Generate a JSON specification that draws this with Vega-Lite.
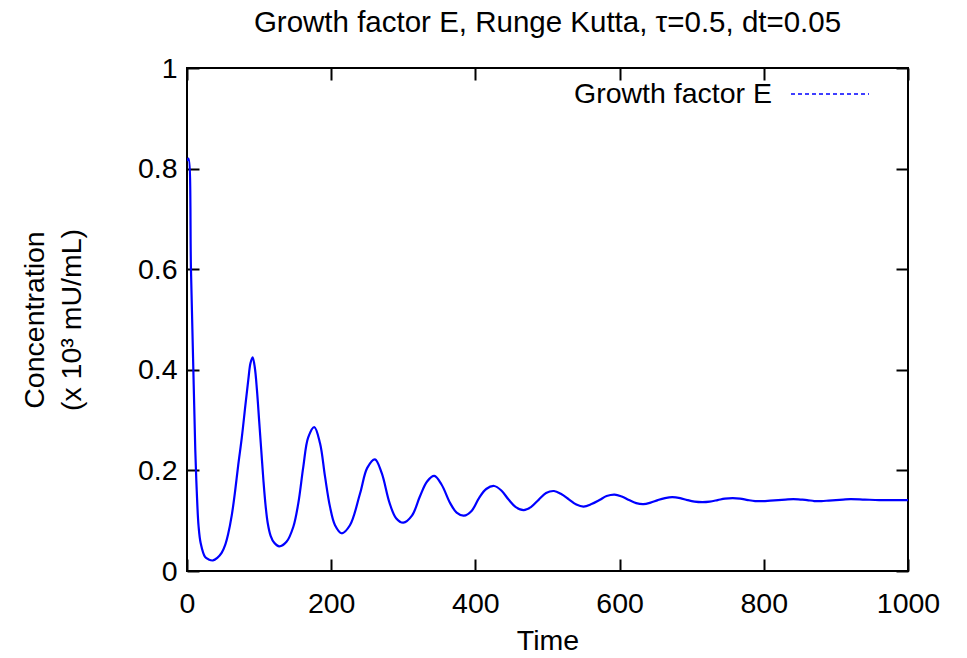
{
  "$schema": "https://vega.github.io/schema/vega-lite/v6.json",
  "width": 721,
  "height": 503,
  "autosize": "none",
  "padding": {"left": 187, "top": 68, "right": 59, "bottom": 87},
  "title": {"text": "Growth factor E, Runge Kutta, τ=0.5, dt=0.05", "font": "Liberation Sans", "fontSize": 29.5, "fontWeight": "normal", "color": "#000000", "offset": 16, "anchor": "middle"},
  "config": {
    "view": {"stroke": "#000000", "strokeWidth": 2},
    "font": "Liberation Sans",
    "axis": {"grid": false, "domain": false, "tickColor": "#000000", "tickWidth": 2, "tickSize": -12, "labelColor": "#000000", "labelFont": "Liberation Sans", "labelFontSize": 28.5, "titleFont": "Liberation Sans", "titleFontSize": 28.5, "titleFontWeight": "normal", "titleColor": "#000000", "labelFlush": false}
  },
  "data": {"values": [
    {"t": 0, "v": 0.815}, {"t": 2, "v": 0.82}, {"t": 5.5, "v": 0.6}, {"t": 8.8, "v": 0.4}, {"t": 11.5, "v": 0.24},
    {"t": 13.5, "v": 0.16}, {"t": 16, "v": 0.09}, {"t": 19, "v": 0.055}, {"t": 25, "v": 0.028}, {"t": 30, "v": 0.023},
    {"t": 36, "v": 0.021}, {"t": 42, "v": 0.026}, {"t": 48, "v": 0.036}, {"t": 53, "v": 0.052}, {"t": 57, "v": 0.073},
    {"t": 62, "v": 0.11}, {"t": 67, "v": 0.162}, {"t": 71, "v": 0.21}, {"t": 76, "v": 0.265}, {"t": 81, "v": 0.33},
    {"t": 85, "v": 0.38}, {"t": 88, "v": 0.413}, {"t": 91, "v": 0.425}, {"t": 94, "v": 0.405}, {"t": 97, "v": 0.36},
    {"t": 100, "v": 0.3}, {"t": 103, "v": 0.24}, {"t": 106, "v": 0.18}, {"t": 109, "v": 0.13}, {"t": 112, "v": 0.095},
    {"t": 116, "v": 0.07}, {"t": 121, "v": 0.056}, {"t": 128, "v": 0.049}, {"t": 138, "v": 0.058}, {"t": 147.5, "v": 0.088},
    {"t": 154.4, "v": 0.135}, {"t": 161.3, "v": 0.207}, {"t": 168, "v": 0.265}, {"t": 176.5, "v": 0.286}, {"t": 184.5, "v": 0.254},
    {"t": 191.4, "v": 0.188}, {"t": 198.3, "v": 0.128}, {"t": 205.3, "v": 0.091}, {"t": 214.5, "v": 0.075}, {"t": 226, "v": 0.091},
    {"t": 240, "v": 0.154}, {"t": 250, "v": 0.205}, {"t": 260.7, "v": 0.222}, {"t": 270, "v": 0.195}, {"t": 281, "v": 0.135},
    {"t": 290, "v": 0.105}, {"t": 300, "v": 0.096}, {"t": 312, "v": 0.11}, {"t": 323, "v": 0.148}, {"t": 333, "v": 0.178},
    {"t": 343, "v": 0.189}, {"t": 353, "v": 0.172}, {"t": 365, "v": 0.135}, {"t": 374, "v": 0.116}, {"t": 384, "v": 0.11},
    {"t": 395, "v": 0.12}, {"t": 405, "v": 0.145}, {"t": 415, "v": 0.163}, {"t": 426, "v": 0.169}, {"t": 436, "v": 0.16},
    {"t": 446, "v": 0.142}, {"t": 456, "v": 0.127}, {"t": 467, "v": 0.121}, {"t": 477, "v": 0.127}, {"t": 488, "v": 0.142},
    {"t": 498, "v": 0.155}, {"t": 509, "v": 0.159}, {"t": 519, "v": 0.153}, {"t": 530, "v": 0.142}, {"t": 540, "v": 0.132},
    {"t": 550, "v": 0.128}, {"t": 561, "v": 0.133}, {"t": 572, "v": 0.141}, {"t": 582, "v": 0.149}, {"t": 593, "v": 0.152},
    {"t": 603, "v": 0.148}, {"t": 613, "v": 0.141}, {"t": 623, "v": 0.135}, {"t": 633, "v": 0.133}, {"t": 643, "v": 0.136},
    {"t": 653, "v": 0.141}, {"t": 663, "v": 0.145}, {"t": 673, "v": 0.147}, {"t": 684, "v": 0.145}, {"t": 694, "v": 0.141},
    {"t": 704, "v": 0.138}, {"t": 715, "v": 0.137}, {"t": 725, "v": 0.138}, {"t": 736, "v": 0.141}, {"t": 746, "v": 0.144},
    {"t": 757, "v": 0.145}, {"t": 767, "v": 0.144}, {"t": 778, "v": 0.141}, {"t": 788, "v": 0.139}, {"t": 799, "v": 0.139},
    {"t": 809, "v": 0.14}, {"t": 820, "v": 0.141}, {"t": 830, "v": 0.142}, {"t": 841, "v": 0.143}, {"t": 851, "v": 0.142},
    {"t": 860, "v": 0.141}, {"t": 870, "v": 0.139}, {"t": 880, "v": 0.139}, {"t": 890, "v": 0.14}, {"t": 900, "v": 0.141},
    {"t": 910, "v": 0.142}, {"t": 920, "v": 0.143}, {"t": 940, "v": 0.142}, {"t": 960, "v": 0.141}, {"t": 980, "v": 0.141},
    {"t": 1000, "v": 0.141}
  ]},
  "layer": [
    {
      "mark": {"type": "line", "interpolate": "catmull-rom", "strokeWidth": 2.2, "clip": true},
      "encoding": {
        "x": {"field": "t", "type": "quantitative", "scale": {"domain": [0, 1000], "nice": false, "zero": false}, "axis": {"orient": "bottom", "title": "Time", "values": [0, 200, 400, 600, 800, 1000], "format": "d", "labelPadding": 30, "titlePadding": 9}},
        "y": {"field": "v", "type": "quantitative", "scale": {"domain": [0, 1], "nice": false}, "axis": {"orient": "left", "title": ["Concentration", "(x 10³ mU/mL)"], "values": [0, 0.2, 0.4, 0.6, 0.8, 1], "labelExpr": "datum.value == 0 ? '0' : datum.value == 1 ? '1' : format(datum.value, '.1f')", "labelPadding": 22, "titlePadding": 51, "titleLineHeight": 37}},
        "color": {"datum": "Growth factor E", "type": "nominal", "scale": {"range": ["#0000ff"]}, "legend": {"title": null, "orient": "none", "legendX": 603, "legendY": -14, "padding": 0, "symbolType": "stroke", "symbolSize": 6084, "symbolStrokeWidth": 1.5, "symbolStrokeColor": "#0000ff", "symbolDash": [4, 3], "labelAlign": "right", "labelOffset": -98, "labelFontSize": 28.5, "labelFont": "Liberation Sans", "labelColor": "#000000", "labelLimit": 400}}
      }
    },
    {
      "mark": {"type": "line", "opacity": 0},
      "encoding": {
        "x": {"field": "t", "type": "quantitative", "axis": {"orient": "top", "title": null, "labels": false, "values": [0, 200, 400, 600, 800, 1000]}},
        "y": {"field": "v", "type": "quantitative", "axis": {"orient": "right", "title": null, "labels": false, "values": [0, 0.2, 0.4, 0.6, 0.8, 1]}}
      }
    }
  ],
  "resolve": {"axis": {"x": "independent", "y": "independent"}}
}
